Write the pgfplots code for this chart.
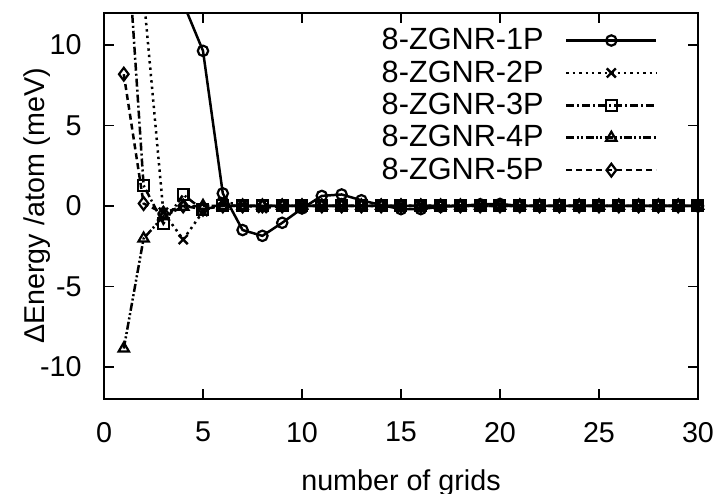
\documentclass[border=0pt]{standalone}
\usepackage{fontspec}
\setmainfont{Liberation Sans}
\usepackage{pgfplots}
\pgfplotsset{compat=1.18}
\newcommand{\ff}{\fontsize{14.4}{17}\selectfont}
\newcommand{\lf}{\fontsize{15.4}{18}\selectfont}
\begin{document}
\begin{tikzpicture}
\useasboundingbox (-52bp,-47bp) rectangle (307.5bp,199.55bp);
\begin{axis}[
  at={(0,0)}, anchor=south west,
  scale only axis, width=297bp, height=193.2bp,
  xmin=0, xmax=30, ymin=-12, ymax=12,
  xtick={0,5,...,30}, ytick={-10,-5,0,5,10},
  minor tick num=0,
  major tick length=5bp,
  tick style={line width=0.8bp, black},
  axis line style={line width=1bp},
  /pgf/number format/assume math mode=true,
  tick label style={font=\ff},
  xticklabel style={anchor=north, inner sep=0pt, yshift=-11.3bp},
  yticklabel style={anchor=east, inner sep=0pt, xshift=-11bp},
  every axis x label/.style={at={(axis description cs:0.5,-0.2355)}, anchor=base, font=\ff},
  every axis y label/.style={at={(axis description cs:-0.1128,0.5)}, rotate=90, anchor=center, font=\ff},
  xlabel={number of grids},
  ylabel={ΔEnergy /atom (meV)},
  legend plot pos=right,
  legend cell align=right,
  legend image code/.code={\draw[mark repeat=2,mark phase=2] plot coordinates {(0bp,0bp) (22.5bp,0bp) (45bp,0bp)};},
  legend style={draw=none, fill=none, at={(1,1)}, anchor=north east, xshift=-20bp, yshift=-7.6bp,
    font=\lf, inner sep=0pt, row sep=4.0bp,
    nodes={inner sep=0pt},
    /tikz/every odd column/.append style={column sep=10.7bp}},
  every axis plot/.append style={line width=1.25bp, black},
]
\addplot[solid, mark=o, mark size=2.6bp, mark options={solid, line width=1.1bp}] coordinates {
(1,40)(2,30)(3,20)(4,12.6)(5,9.63)(6,0.78)(7,-1.5)(8,-1.86)(9,-1.05)(10,-0.16)
(11,0.62)(12,0.71)(13,0.35)(14,0.05)(15,-0.2)(16,-0.2)(17,-0.05)(18,0)(19,0.1)(20,0.12)
(21,0)(22,0)(23,0)(24,0)(25,0)(26,0)(27,0)(28,0)(29,0)(30,0)};
\addlegendentry{8-ZGNR-1P}
\addplot[dash pattern=on 1.2bp off 2bp, mark=x, mark size=3.2bp, mark options={solid, line width=1.2bp}] coordinates {
(1,30)(2,13.1)(3,-0.4)(4,-2.09)(5,-0.35)(6,0.25)(7,0.05)(8,-0.15)(9,0)(10,0)
(11,0)(12,0)(13,0)(14,0)(15,0)(16,0)(17,0)(18,0)(19,0)(20,0)
(21,0)(22,0)(23,0)(24,0)(25,0)(26,0)(27,0)(28,0)(29,0)(30,0)};
\addlegendentry{8-ZGNR-2P}
\addplot[dash pattern=on 4bp off 1.5bp on 1bp off 1.5bp, mark=square, mark size=2.7bp, mark options={solid, line width=1.1bp}] coordinates {
(1,19.8)(2,1.27)(3,-1.1)(4,0.7)(5,-0.25)(6,0.05)(7,0)(8,0)(9,0)(10,0)
(11,0)(12,0)(13,0)(14,0)(15,0)(16,0)(17,0)(18,0)(19,0)(20,0)
(21,0)(22,0)(23,0)(24,0)(25,0)(26,0)(27,0)(28,0)(29,0)(30,0)};
\addlegendentry{8-ZGNR-3P}
\addplot[dash pattern=on 4bp off 1.2bp on 1bp off 1.2bp on 1bp off 1.2bp, mark=triangle, mark size=3bp, mark options={solid, line width=1.1bp}] coordinates {
(1,-8.86)(2,-2.03)(3,-0.65)(4,-0.05)(5,0)(6,0)(7,0)(8,0)(9,0)(10,0)
(11,0)(12,0)(13,0)(14,0)(15,0)(16,0)(17,0)(18,0)(19,0)(20,0)
(21,0)(22,0)(23,0)(24,0)(25,0)(26,0)(27,0)(28,0)(29,0)(30,0)};
\addlegendentry{8-ZGNR-4P}
\addplot[dash pattern=on 3bp off 2bp, mark=diamond, mark size=3.2bp, mark options={solid, line width=1.1bp}] coordinates {
(1,8.18)(2,0.15)(3,-0.45)(4,0)(5,-0.2)(6,0)(7,0)(8,0)(9,0)(10,0)
(11,0)(12,0)(13,0)(14,0)(15,0)(16,0)(17,0)(18,0)(19,0)(20,0)
(21,0)(22,0)(23,0)(24,0)(25,0)(26,0)(27,0)(28,0)(29,0)(30,0)};
\addlegendentry{8-ZGNR-5P}
\end{axis}
\end{tikzpicture}
\end{document}
